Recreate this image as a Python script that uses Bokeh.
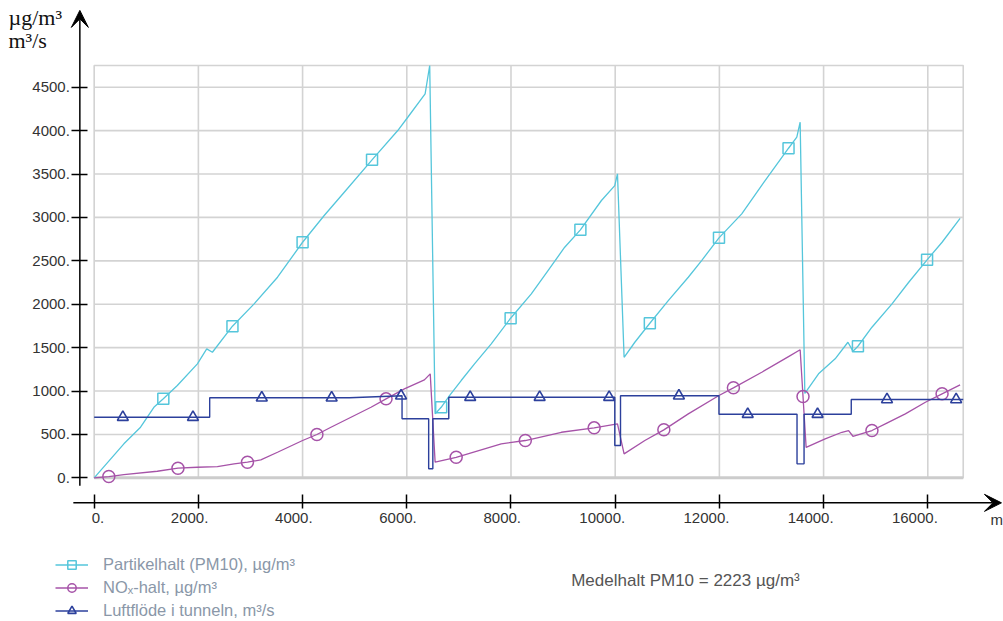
from bokeh.plotting import figure
from bokeh.models import (Range1d, LinearAxis, FixedTicker, Arrow, VeeHead, Label,
                          Legend, LegendItem)
from bokeh.embed import file_html
from bokeh.resources import INLINE
from bokeh.core.properties import value

# ---------------- data ----------------
x_ticks = [0, 2000, 4000, 6000, 8000, 10000, 12000, 14000, 16000]
x_labels = ["0.", "2000.", "4000.", "6000.", "8000.", "10000.", "12000.", "14000.", "16000."]
y_ticks = [0, 500, 1000, 1500, 2000, 2500, 3000, 3500, 4000, 4500]
y_labels = ["0.", "500.", "1000.", "1500.", "2000.", "2500.", "3000.", "3500.", "4000.", "4500."]

# Partikelhalt (PM10)
pm10_x = [0, 570, 890, 1146, 1327, 1596, 1981, 2160, 2269, 2654, 3070, 3519, 4000, 4415,
          4800, 5333, 5827, 6019, 6352, 6440, 6544, 6660, 6820, 7044, 7300, 7621, 7993,
          8390, 8711, 9031, 9332, 9736, 9992, 10044, 10171, 10377, 10665, 11019, 11403,
          11659, 11992, 12429, 12877, 13327, 13486, 13550, 13640, 13903, 14222, 14467,
          14563, 14659, 14928, 15313, 15634, 15986, 16274, 16620]
pm10_y = [0, 392, 583, 813, 910, 1063, 1313, 1486, 1447, 1747, 2004, 2311, 2714, 3022,
          3290, 3663, 4001, 4154, 4424, 4750, 737, 813, 948, 1121, 1313, 1544, 1839,
          2120, 2388, 2657, 2857, 3195, 3367, 3502, 1389, 1562, 1781, 2042, 2311,
          2503, 2765, 3041, 3425, 3797, 3924, 4097, 972, 1198, 1371, 1562,
          1459, 1516, 1735, 2004, 2253, 2511, 2714, 2990]
pm10_mx = [1327, 2654, 4000, 5333, 6660, 7993, 9332, 10665, 11992, 13327, 14659, 15986]
pm10_my = [910, 1747, 2714, 3663, 813, 1839, 2857, 1781, 2765, 3797, 1516, 2511]

# NOx-halt
nox_x = [0, 281, 570, 1211, 1608, 1981, 2365, 2685, 2942, 3198, 3519, 4000, 4275, 4544,
         4929, 5313, 5602, 5954, 6338, 6450, 6544, 6948, 7813, 8275, 8967, 9596, 10044,
         10171, 10569, 10934, 11403, 11992, 12269, 12813, 13327, 13550, 13665, 14030,
         14352, 14480, 14563, 14928, 15185, 15569, 15954, 16274, 16620]
nox_y = [0, 15, 38, 76, 111, 122, 130, 161, 180, 207, 295, 430, 499, 583,
         698, 813, 910, 1025, 1129, 1198, 180, 237, 392, 430, 525, 576, 622,
         276, 430, 553, 737, 948, 1037, 1217, 1397, 1475, 350, 449,
         525, 545, 479, 545, 622, 737, 871, 968, 1071]
nox_mx = [281, 1608, 2942, 4275, 5602, 6948, 8275, 9596, 10934, 12269, 13605, 14928, 16274]
nox_my = [15, 111, 180, 499, 910, 237, 430, 576, 553, 1037, 937, 545, 968]

# Luftflöde i tunneln
flow_x = [0, 2217, 2217, 4900, 5909, 5909, 6420, 6420, 6500, 6500, 6806, 6806, 9992,
          9992, 10102, 10102, 11992, 11992, 13490, 13490, 13625, 13625, 14531, 14531, 16680]
flow_y = [698, 698, 922, 922, 945, 680, 680, 104, 104, 680, 680, 929, 929,
          372, 372, 945, 945, 733, 733, 161, 161, 733, 733, 902, 902]
flow_mx = [550, 1896, 3217, 4558, 5890, 7217, 8550, 9884, 11223, 12544, 13884, 15217, 16544]
flow_my = [698, 698, 922, 922, 945, 929, 929, 929, 945, 733, 733, 902, 902]

legend_labels = ["Partikelhalt (PM10), µg/m³", "NOₓ-halt, µg/m³", "Luftflöde i tunneln, m³/s"]
note_text = "Medelhalt PM10 = 2223 µg/m³"

# ---------------- layout / style ----------------
W, H = 1003, 621
X_RIGHT, Y_TOP = 16680, 4750          # extent of the grey framed box
YAXIS_X, XAXIS_Y = -275, -288          # where the black arrow axes sit
C_PM, C_NOX, C_FLOW = "#55c6db", "#a653a8", "#2c409c"
GRID = "#d3d3d3"
FONT = "Liberation Sans"

p = figure(width=W, height=H, x_range=Range1d(-1798, 17453), y_range=Range1d(-1655, 5499),
           x_axis_type=None, y_axis_type=None, output_backend="svg",
           toolbar_location=None, min_border=0)
p.outline_line_color = None
p.background_fill_color = "white"

# grid + frame
p.segment(x0=x_ticks[1:], y0=0, x1=x_ticks[1:], y1=Y_TOP, line_color=GRID, line_width=1.6)
p.segment(x0=0, y0=y_ticks[1:], x1=X_RIGHT, y1=y_ticks[1:], line_color=GRID, line_width=1.6)
p.quad(left=0, right=X_RIGHT, bottom=0, top=Y_TOP, fill_color=None, line_color=GRID, line_width=1.6)
p.segment(x0=0, y0=0, x1=X_RIGHT, y1=0, line_color="#cccccc", line_width=3)

# axes
yax = LinearAxis(fixed_location=YAXIS_X, ticker=FixedTicker(ticks=y_ticks),
                 major_label_overrides={t: l for t, l in zip(y_ticks, y_labels)},
                 axis_line_color=None, major_tick_in=8, major_tick_out=8,
                 major_tick_line_width=1.5, major_tick_line_color="black",
                 minor_tick_line_color=None, major_label_standoff=2,
                 major_label_text_font=FONT, major_label_text_font_size="15px",
                 major_label_text_color="#333333")
p.add_layout(yax, "left")
xax = LinearAxis(fixed_location=XAXIS_Y, ticker=FixedTicker(ticks=x_ticks),
                 major_label_overrides={t: "" for t in x_ticks},
                 axis_line_color=None, major_tick_in=8, major_tick_out=6,
                 major_tick_line_width=1.5, major_tick_line_color="black",
                 minor_tick_line_color=None)
p.add_layout(xax, "below")
p.text(x=x_ticks, y=XAXIS_Y, text=x_labels, text_align="right", text_baseline="top",
       x_offset=10, y_offset=10, text_font=value(FONT), text_font_size="15px",
       text_color="#333333")

p.add_layout(Arrow(end=VeeHead(size=17, fill_color="black", line_color="black"),
                   x_start=YAXIS_X, y_start=-90, x_end=YAXIS_X, y_end=5385,
                   line_width=1.5, line_color="black"))
p.add_layout(Arrow(end=VeeHead(size=17, fill_color="black", line_color="black"),
                   x_start=-400, y_start=XAXIS_Y, x_end=17414, y_end=XAXIS_Y,
                   line_width=1.5, line_color="black"))

# series
l1 = p.line(pm10_x, pm10_y, line_color=C_PM, line_width=1.3)
m1 = p.scatter(pm10_mx, pm10_my, marker="square", size=11, fill_color=None,
               line_color=C_PM, line_width=1.5)
l2 = p.line(nox_x, nox_y, line_color=C_NOX, line_width=1.3)
m2 = p.scatter(nox_mx, nox_my, marker="circle", size=12, fill_color=None,
               line_color=C_NOX, line_width=1.5)
l3 = p.line(flow_x, flow_y, line_color=C_FLOW, line_width=1.4)
m3 = p.scatter(flow_mx, flow_my, marker="triangle", size=11, fill_color=None,
               line_color=C_FLOW, line_width=1.6)

legend = Legend(items=[LegendItem(label=legend_labels[0], renderers=[l1, m1]),
                       LegendItem(label=legend_labels[1], renderers=[l2, m2]),
                       LegendItem(label=legend_labels[2], renderers=[l3, m3])],
                location=(55, 0), orientation="vertical", glyph_width=33,
                glyph_height=21, label_height=21, spacing=2, padding=0, margin=0,
                label_standoff=15, border_line_color=None, background_fill_alpha=0,
                label_text_font=FONT, label_text_font_size="16.5px",
                label_text_color="#8a97a8")
p.add_layout(legend)

# texts
p.add_layout(Label(x=8, y=591.7, x_units="screen", y_units="screen", text="µg/m³",
                   text_font="Liberation Serif", text_font_size="22px", text_color="#111111"))
p.add_layout(Label(x=8, y=568.3, x_units="screen", y_units="screen", text="m³/s",
                   text_font="Liberation Serif", text_font_size="22px", text_color="#111111"))
p.add_layout(Label(x=990, y=94, x_units="screen", y_units="screen", text="m",
                   text_font=FONT, text_font_size="15px", text_color="#333333"))
p.add_layout(Label(x=570.7, y=31.7, x_units="screen", y_units="screen", text=note_text,
                   text_font=FONT, text_font_size="17px", text_color="#555555"))

open("out.html", "w").write(file_html(p, INLINE))
